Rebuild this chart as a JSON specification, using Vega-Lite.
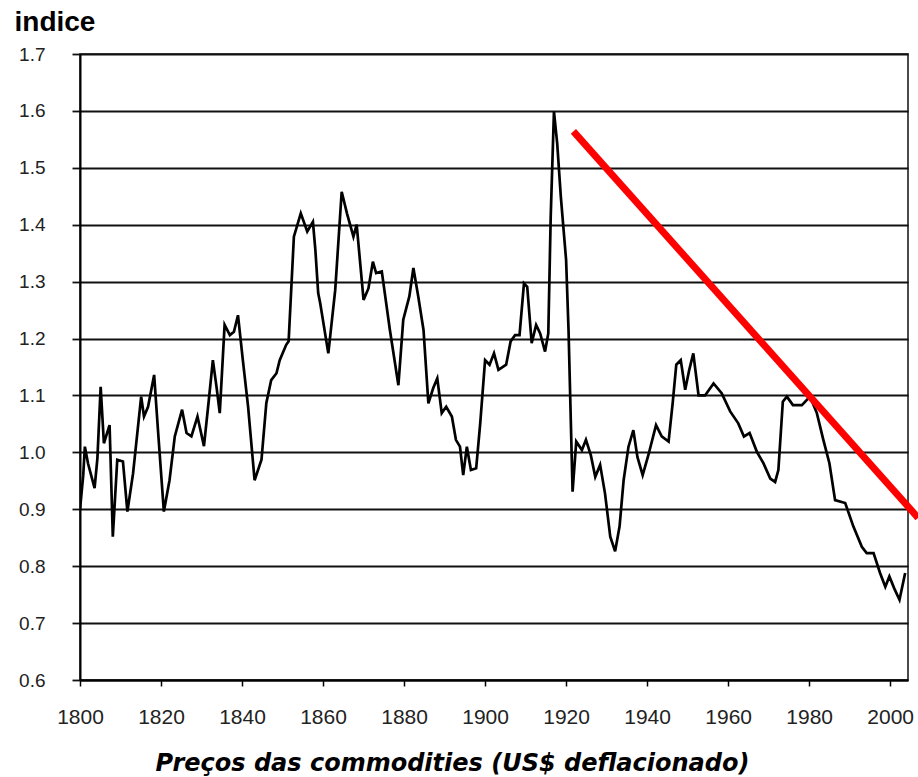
{
  "$schema": "https://vega.github.io/schema/vega-lite/v6.json",
  "width": 828,
  "height": 626,
  "autosize": {"type": "none"},
  "padding": {"left": 80, "top": 54, "right": 10, "bottom": 97},
  "background": "white",
  "config": {
    "view": {"stroke": "#111", "strokeWidth": 1.5},
    "axis": {"labelColor": "#222", "titleColor": "#000"}
  },
  "datasets": {
    "series": [
      {"year": 1800, "value": 0.9}, {"year": 1800.8, "value": 0.96}, {"year": 1801.2, "value": 1.01},
      {"year": 1802, "value": 0.98}, {"year": 1803.6, "value": 0.937}, {"year": 1804.3, "value": 0.99},
      {"year": 1805.1, "value": 1.115}, {"year": 1805.9, "value": 1.016}, {"year": 1807.3, "value": 1.048},
      {"year": 1808.1, "value": 0.852}, {"year": 1809.2, "value": 0.987}, {"year": 1810.6, "value": 0.984},
      {"year": 1811.7, "value": 0.896}, {"year": 1813.1, "value": 0.963}, {"year": 1815.1, "value": 1.098},
      {"year": 1815.8, "value": 1.063}, {"year": 1816.8, "value": 1.08}, {"year": 1818.3, "value": 1.136},
      {"year": 1819.3, "value": 1.034}, {"year": 1820.7, "value": 0.896}, {"year": 1822.1, "value": 0.951},
      {"year": 1823.4, "value": 1.028}, {"year": 1825.2, "value": 1.075}, {"year": 1826.3, "value": 1.034},
      {"year": 1827.5, "value": 1.028}, {"year": 1829.0, "value": 1.063}, {"year": 1830.6, "value": 1.011},
      {"year": 1831.8, "value": 1.092}, {"year": 1832.8, "value": 1.162}, {"year": 1833.7, "value": 1.115},
      {"year": 1834.5, "value": 1.069}, {"year": 1835.7, "value": 1.224}, {"year": 1837.0, "value": 1.206},
      {"year": 1838.0, "value": 1.212}, {"year": 1839.0, "value": 1.241}, {"year": 1840.2, "value": 1.162},
      {"year": 1841.5, "value": 1.08}, {"year": 1843.1, "value": 0.951}, {"year": 1844.8, "value": 0.987},
      {"year": 1846.0, "value": 1.087}, {"year": 1847.2, "value": 1.127}, {"year": 1848.5, "value": 1.139},
      {"year": 1849.3, "value": 1.162}, {"year": 1850.9, "value": 1.189}, {"year": 1851.5, "value": 1.195},
      {"year": 1852.8, "value": 1.379}, {"year": 1854.5, "value": 1.42}, {"year": 1856.1, "value": 1.388},
      {"year": 1857.5, "value": 1.405}, {"year": 1858.1, "value": 1.356}, {"year": 1858.8, "value": 1.28},
      {"year": 1859.3, "value": 1.262}, {"year": 1861.3, "value": 1.174}, {"year": 1863.0, "value": 1.285},
      {"year": 1864.6, "value": 1.458}, {"year": 1865.9, "value": 1.42}, {"year": 1867.5, "value": 1.379},
      {"year": 1868.3, "value": 1.4}, {"year": 1870.0, "value": 1.268}, {"year": 1871.2, "value": 1.288},
      {"year": 1872.3, "value": 1.335}, {"year": 1873.1, "value": 1.315}, {"year": 1874.5, "value": 1.318},
      {"year": 1876.5, "value": 1.215}, {"year": 1878.6, "value": 1.118}, {"year": 1879.8, "value": 1.233},
      {"year": 1881.3, "value": 1.274}, {"year": 1882.3, "value": 1.324}, {"year": 1883.5, "value": 1.274},
      {"year": 1884.8, "value": 1.215}, {"year": 1886.0, "value": 1.086}, {"year": 1887.2, "value": 1.113},
      {"year": 1888.2, "value": 1.13}, {"year": 1889.3, "value": 1.069}, {"year": 1890.4, "value": 1.08},
      {"year": 1891.8, "value": 1.063}, {"year": 1892.8, "value": 1.022}, {"year": 1893.8, "value": 1.01},
      {"year": 1894.6, "value": 0.96}, {"year": 1895.5, "value": 1.01}, {"year": 1896.5, "value": 0.969},
      {"year": 1897.8, "value": 0.972}, {"year": 1898.8, "value": 1.051}, {"year": 1900.0, "value": 1.162},
      {"year": 1901.1, "value": 1.154}, {"year": 1902.2, "value": 1.174}, {"year": 1903.3, "value": 1.145},
      {"year": 1905.2, "value": 1.154}, {"year": 1906.3, "value": 1.195}, {"year": 1907.4, "value": 1.206},
      {"year": 1908.5, "value": 1.206}, {"year": 1909.6, "value": 1.297}, {"year": 1910.4, "value": 1.291},
      {"year": 1911.5, "value": 1.192}, {"year": 1912.6, "value": 1.224}, {"year": 1913.6, "value": 1.209},
      {"year": 1914.8, "value": 1.177}, {"year": 1915.6, "value": 1.209}, {"year": 1916.2, "value": 1.414},
      {"year": 1917.0, "value": 1.599}, {"year": 1917.8, "value": 1.543}, {"year": 1918.7, "value": 1.449},
      {"year": 1920.0, "value": 1.338}, {"year": 1920.6, "value": 1.215}, {"year": 1921.6, "value": 0.931},
      {"year": 1922.5, "value": 1.019}, {"year": 1923.9, "value": 1.004}, {"year": 1924.9, "value": 1.022},
      {"year": 1926.1, "value": 0.995}, {"year": 1927.2, "value": 0.957}, {"year": 1928.4, "value": 0.978},
      {"year": 1929.6, "value": 0.928}, {"year": 1930.9, "value": 0.852}, {"year": 1932.1, "value": 0.826},
      {"year": 1933.2, "value": 0.87}, {"year": 1934.2, "value": 0.951}, {"year": 1935.4, "value": 1.01},
      {"year": 1936.6, "value": 1.039}, {"year": 1937.6, "value": 0.992}, {"year": 1938.9, "value": 0.96},
      {"year": 1940.3, "value": 0.995}, {"year": 1942.2, "value": 1.048}, {"year": 1943.6, "value": 1.028},
      {"year": 1945.3, "value": 1.019}, {"year": 1946.3, "value": 1.086}, {"year": 1947.2, "value": 1.154},
      {"year": 1948.3, "value": 1.162}, {"year": 1949.4, "value": 1.11}, {"year": 1950.4, "value": 1.145},
      {"year": 1951.4, "value": 1.174}, {"year": 1952.7, "value": 1.1}, {"year": 1954.3, "value": 1.1},
      {"year": 1956.4, "value": 1.121}, {"year": 1958.4, "value": 1.104}, {"year": 1960.5, "value": 1.072},
      {"year": 1962.5, "value": 1.051}, {"year": 1963.9, "value": 1.028}, {"year": 1965.3, "value": 1.034},
      {"year": 1967.1, "value": 1.001}, {"year": 1968.7, "value": 0.981}, {"year": 1970.4, "value": 0.954},
      {"year": 1971.6, "value": 0.948}, {"year": 1972.4, "value": 0.969}, {"year": 1973.5, "value": 1.089},
      {"year": 1974.5, "value": 1.098}, {"year": 1976.0, "value": 1.083}, {"year": 1978.2, "value": 1.083},
      {"year": 1980.2, "value": 1.098}, {"year": 1981.9, "value": 1.069}, {"year": 1983.5, "value": 1.022},
      {"year": 1985.0, "value": 0.981}, {"year": 1986.4, "value": 0.916}, {"year": 1988.9, "value": 0.911},
      {"year": 1990.9, "value": 0.87}, {"year": 1993.0, "value": 0.834}, {"year": 1994.2, "value": 0.823},
      {"year": 1995.9, "value": 0.823}, {"year": 1997.5, "value": 0.788}, {"year": 1998.8, "value": 0.764},
      {"year": 1999.8, "value": 0.782}, {"year": 2001.0, "value": 0.761}, {"year": 2002.3, "value": 0.741},
      {"year": 2003.7, "value": 0.788}
    ],
    "trend": [
      {"year": 1921.8, "value": 1.564},
      {"year": 2006.9, "value": 0.885}
    ]
  },
  "layer": [
    {
      "data": {"name": "series"},
      "mark": {"type": "line", "color": "#000", "strokeWidth": 2.7, "clip": true},
      "encoding": {
        "x": {
          "field": "year", "type": "quantitative",
          "scale": {"domain": [1800, 2004.4], "nice": false, "zero": false},
          "axis": {
            "values": [1800, 1820, 1840, 1860, 1880, 1900, 1920, 1940, 1960, 1980, 2000],
            "format": "d",
            "grid": false,
            "labelFlush": false, "labelOverlap": false, "labelBound": false,
            "domain": true, "domainColor": "#000", "domainWidth": 2,
            "ticks": true, "tickColor": "#000", "tickSize": 6, "tickWidth": 1.5,
            "labelFont": "Liberation Sans", "labelFontSize": 21, "labelPadding": 20,
            "labelColor": "#222",
            "title": "Preços das commodities (US$ deflacionado)",
            "titleFont": "DejaVu Sans", "titleFontSize": 24, "titleFontWeight": "bold", "titleFontStyle": "italic",
            "titleAnchor": "start", "titleAlign": "center", "titleX": 372, "titleY": 90, "titleBaseline": "alphabetic"
          }
        },
        "y": {
          "field": "value", "type": "quantitative",
          "scale": {"domain": [0.6, 1.7], "nice": false, "zero": false},
          "axis": {
            "values": [0.6, 0.7, 0.8, 0.9, 1.0, 1.1, 1.2, 1.3, 1.4, 1.5, 1.6, 1.7],
            "format": ".1f",
            "labelFlush": false, "labelOverlap": false,
            "grid": true, "gridColor": "#111", "gridWidth": 1.8, "gridOpacity": 1,
            "domain": true, "domainColor": "#000", "domainWidth": 2,
            "ticks": true, "tickColor": "#111", "tickSize": 8, "tickWidth": 1.8,
            "labelFont": "Liberation Sans", "labelFontSize": 19, "labelPadding": 27,
            "labelColor": "#222",
            "title": "indice",
            "titleFont": "Liberation Sans", "titleFontSize": 28, "titleFontWeight": "bold",
            "titleAngle": 0, "titleAlign": "left", "titleBaseline": "alphabetic",
            "titleAnchor": "start", "titleX": -66, "titleY": -24
          }
        }
      }
    },
    {
      "data": {"name": "trend"},
      "mark": {"type": "line", "color": "#ff0000", "strokeWidth": 7, "clip": false, "strokeCap": "butt"},
      "encoding": {
        "x": {"field": "year", "type": "quantitative"},
        "y": {"field": "value", "type": "quantitative"}
      }
    }
  ]
}
